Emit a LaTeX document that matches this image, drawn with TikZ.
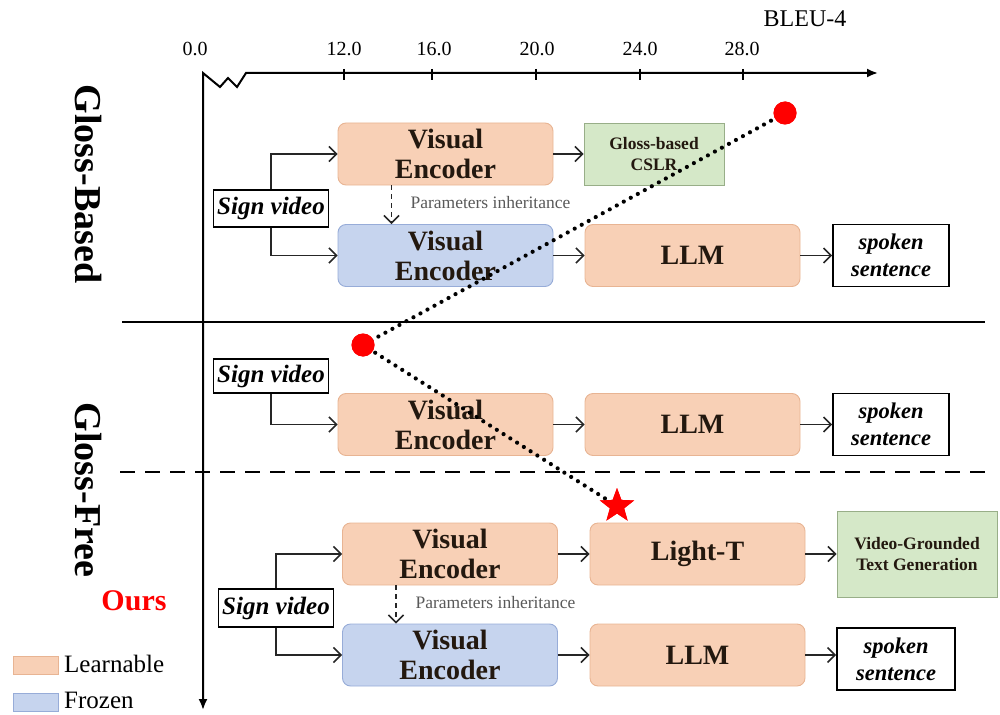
\documentclass[tikz,border=0pt]{standalone}
\usepackage{fontspec}
\setmainfont{Liberation Serif}
\usetikzlibrary{arrows.meta,shapes.geometric,calc}
\definecolor{orF}{HTML}{F8D0B6}
\definecolor{orB}{HTML}{E8B493}
\definecolor{blF}{HTML}{C6D4EE}
\definecolor{blB}{HTML}{97ACD8}
\definecolor{grF}{HTML}{D5E8C8}
\definecolor{grB}{HTML}{98AE88}
\definecolor{txt}{HTML}{23180F}
\begin{document}
\begin{tikzpicture}[x=1pt,y=-1pt,
 box/.style={draw, line width=0.9pt, align=center, inner sep=0pt, text=txt},
 learn/.style={box, draw=orB, fill=orF, rounded corners=8pt, minimum width=215pt, minimum height=62pt, font=\bfseries\fontsize{28}{30}\selectfont},
 frozen/.style={learn, draw=blB, fill=blF},
 task/.style={box, draw=grB, fill=grF, font=\bfseries\fontsize{17.5}{21.5}\selectfont},
 outbox/.style={box, draw=black, line width=1.6pt, fill=white, minimum width=116pt, minimum height=62pt, text=black, font=\bfseries\itshape\fontsize{22.5}{27}\selectfont},
 svbox/.style={box, draw=black, line width=1.6pt, fill=white, minimum width=115pt, text=black, font=\bfseries\itshape\fontsize{25}{26}\selectfont},
 flow/.style={-{Straight Barb[length=7.5pt,width=15pt]}, line width=1.6pt, draw=black!85},
 inherit/.style={flow, dash pattern=on 5pt off 4pt},
 inlabel/.style={anchor=west, text=black!65, font=\fontsize{17.5}{19}\selectfont},
 dotline/.style={line width=4.2pt, dash pattern=on 0pt off 8pt, line cap=round},
 reddot/.style={circle, fill=red, minimum size=23pt, inner sep=0pt},
 axis/.style={line width=2pt, {Latex[length=11pt,width=9pt]}-{Latex[length=11pt,width=9pt]}},
 ticklab/.style={font=\fontsize{20}{22}\selectfont},
 sect/.style={rotate=-90, font=\bfseries\fontsize{38}{40}\selectfont},
 legtxt/.style={anchor=west, inner sep=1pt, font=\fontsize{25}{27}\selectfont}
]
\useasboundingbox (0,0) rectangle (1000,714);

% axes
\draw[axis] (203,710) -- (203,73) -- (220,87) -- (228,78) -- (237,87) -- (246,73) -- (878,73);
\foreach \x in {344,432,536,640,743} \draw[line width=1.8pt] (\x,69) -- (\x,80);
\node[ticklab] (t0) at (195,49) {0.0};
\node[ticklab] (t12) at (344,49) {12.0};
\node[ticklab] (t16) at (434,49) {16.0};
\node[ticklab] (t20) at (537,49) {20.0};
\node[ticklab] (t24) at (640,49) {24.0};
\node[ticklab] (t28) at (742,49) {28.0};
\node[font=\fontsize{24}{26}\selectfont] (bleu) at (805,19) {BLEU-4};

% separators
\draw[line width=2.2pt] (122,322) -- (985,322);
\draw[line width=2.5pt, dash pattern=on 15pt off 10pt] (120,472) -- (992,472);

% section labels
\node[sect] (gb) at (88,184) {Gloss-Based};
\node[sect] (gf) at (88,490) {Gloss-Free};
\node[text=red, font=\bfseries\fontsize{30}{32}\selectfont] (ours) at (134,601) {Ours};

% legend
\node[draw=orB, fill=orF, minimum width=45pt, minimum height=18pt, inner sep=0pt] (lg1) at (35.5,665) {};
\node[legtxt] (lt1) at (63,664) {Learnable};
\node[draw=blB, fill=blF, minimum width=45pt, minimum height=18pt, inner sep=0pt] (lg2) at (35.5,702) {};
\node[legtxt] (lt2) at (63,700) {Frozen};

% section 1
\node[learn] (ve1) at (445.5,154) {Visual\\Encoder};
\node[task, minimum width=140pt, minimum height=62pt] (cslr) at (654,154) {Gloss-based\\CSLR};
\node[svbox, minimum height=37pt] (sv1) at (271,208.5) {Sign video};
\node[frozen] (ve1b) at (445.5,255.5) {Visual\\Encoder};
\node[learn] (llm1) at (692.5,255.5) {LLM};
\node[outbox] (sp1) at (891,255.5) {spoken\\sentence};
\draw[flow] (sv1.north) |- (ve1.west);
\draw[flow] (sv1.south) |- (ve1b.west);
\draw[flow] (ve1) -- (cslr);
\draw[flow] (ve1b) -- (llm1);
\draw[flow] (llm1) -- (sp1);
\draw[inherit] ($(ve1.south west)!0.25!(ve1.south east)$) -- ($(ve1b.north west)!0.25!(ve1b.north east)$);
\node[inlabel] (pi1) at (407,203) {Parameters inheritance};

% section 2
\node[svbox, minimum height=34pt] (sv2) at (271,376) {Sign video};
\node[learn] (ve2) at (445.5,424.5) {Visual\\Encoder};
\node[learn] (llm2) at (692.5,424.5) {LLM};
\node[outbox] (sp2) at (891,424.5) {spoken\\sentence};
\draw[flow] (sv2.south) |- (ve2.west);
\draw[flow] (ve2) -- (llm2);
\draw[flow] (llm2) -- (sp2);

% section 3
\node[learn] (ve3) at (450,554) {Visual\\Encoder};
\node[learn] (lt) at (697.5,554) {Light-T};
\node[task, minimum width=160pt, minimum height=86pt] (vg) at (917,554) {Video-Grounded\\Text Generation};
\node[svbox, minimum height=38pt] (sv3) at (276,608) {Sign video};
\node[frozen] (ve3b) at (450,655) {Visual\\Encoder};
\node[learn] (llm3) at (697.5,655) {LLM};
\node[outbox, minimum width=118pt] (sp3) at (896,659) {spoken\\sentence};
\draw[flow] (sv3.north) |- (ve3.west);
\draw[flow] (sv3.south) |- (ve3b.west);
\draw[flow] (ve3) -- (lt);
\draw[flow] (lt) -- (vg);
\draw[flow] (ve3b) -- (llm3);
\draw[flow] (llm3.east) -- (llm3.east -| sp3.west);
\draw[inherit] ($(ve3.south west)!0.25!(ve3.south east)$) -- ($(ve3b.north west)!0.25!(ve3b.north east)$);
\node[inlabel] (pi3) at (412,603) {Parameters inheritance};

% performance trace
\node[reddot] (p1) at (785,113) {};
\node[reddot] (p2) at (363,345) {};
\node[star, star points=5, star point ratio=2.4, fill=red, minimum size=36pt, inner sep=0pt] (st) at (617,506) {};
\draw[dotline] (p1.center) -- (p2.center) -- (st.center);
\node[reddot] at (p1) {};
\node[reddot] at (p2) {};
\node[star, star points=5, star point ratio=2.4, fill=red, minimum size=36pt, inner sep=0pt] at (st) {};
\end{tikzpicture}
\end{document}
